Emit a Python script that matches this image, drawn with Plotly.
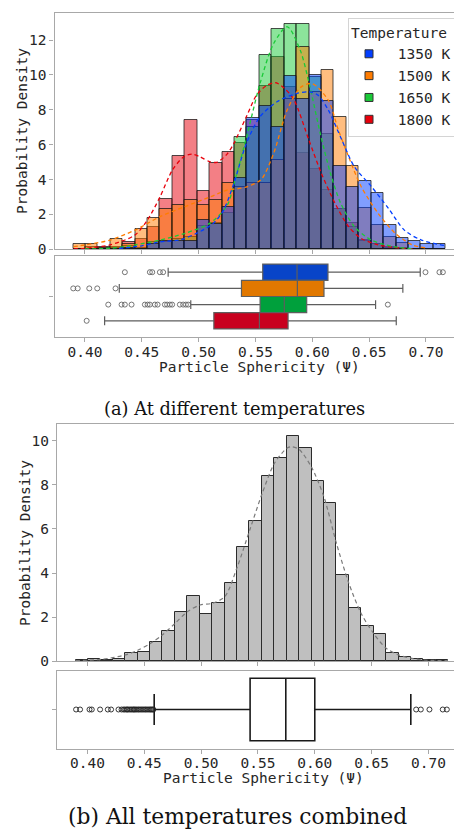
import plotly.graph_objects as go

FONT = "DejaVu Sans Mono"
SERIF = "DejaVu Serif"
TXT = "#262626"
SPINE = "#a8a8a8"

# ---------------- data ----------------
BIN_START = 0.3895
BIN_WIDTH = 0.01093
N_BINS = 30

temps = ["1350 K", "1500 K", "1650 K", "1800 K"]

hist_1350 = [0, 0, 0, 0, 0.1, 0, 0.3, 0.45, 0.5, 0.5, 1.7, 1.45, 2.4, 4.07, 7.54,
             8.21, 7.03, 9.93, 8.6, 9.99, 8.5, 4.8, 3.6, 3.93, 3.24, 1.39, 0.67, 0.45, 0.28, 0.28]
hist_1500 = [0.29, 0.29, 0, 0.57, 0.3, 1.15, 1.78, 2.3, 2.54, 2.83, 2.54, 2.83, 3.82, 3.6, 3.78,
             3.82, 5.12, 8.6, 11.6, 9.03, 10.27, 7.56, 4.77, 2.35, 1.39, 0.72, 0.35, 0, 0, 0]
hist_1650 = [0, 0, 0.1, 0.1, 0.2, 0.1, 0.4, 0.4, 0.6, 0.72, 1.35, 1.5, 2.1, 6.45, 7.03,
             11.17, 12.66, 12.91, 12.91, 9.9, 6.6, 2.3, 1.3, 0.5, 0.3, 0.1, 0, 0, 0, 0]
hist_1800 = [0, 0.12, 0.12, 0.12, 0.4, 0.6, 1.3, 2.87, 5.35, 7.41, 3.36, 4.97, 5.6, 6.07, 7.4,
             9.36, 11.04, 9.28, 5.5, 4.6, 3.4, 2.3, 1.5, 0.55, 0.3, 0.15, 0.1, 0, 0, 0]

hist_all = [0.06, 0.1, 0.07, 0.12, 0.36, 0.41, 0.88, 1.39, 2.25, 2.96, 2.16, 2.64, 3.53, 5.19, 6.34,
            8.38, 9.19, 10.2, 9.65, 8.17, 7.18, 3.89, 2.40, 1.60, 1.22, 0.39, 0.18, 0.10, 0.06, 0.06]

# KDE curves
kde_1350_x = [0.43, 0.45, 0.466, 0.484, 0.498, 0.513, 0.522, 0.531, 0.542, 0.554, 0.569, 0.586,
              0.597, 0.605, 0.614, 0.626, 0.637, 0.652, 0.667, 0.681, 0.696, 0.716]
kde_1350_y = [0.05, 0.2, 0.42, 0.55, 0.91, 1.49, 2.25, 3.78, 6.07, 7.6, 8.46, 8.93,
              9.03, 8.84, 8.0, 6.27, 4.74, 3.6, 2.35, 1.1, 0.53, 0.22]
kde_1500_x = [0.39, 0.40, 0.422, 0.444, 0.466, 0.488, 0.510, 0.525, 0.532, 0.543, 0.555, 0.566,
              0.578, 0.590, 0.600, 0.614, 0.623, 0.632, 0.643, 0.658, 0.673, 0.688, 0.70]
kde_1500_y = [0.15, 0.25, 0.53, 1.1, 1.87, 2.45, 3.0, 3.4, 3.45, 3.6, 4.0, 5.5,
              8.0, 9.3, 9.5, 8.56, 6.84, 5.3, 3.6, 2.06, 0.92, 0.25, 0.08]
kde_1650_x = [0.40, 0.422, 0.444, 0.466, 0.488, 0.510, 0.525, 0.532, 0.543, 0.554, 0.566, 0.578,
              0.5895, 0.598, 0.607, 0.616, 0.625, 0.637, 0.652, 0.672, 0.69]
kde_1650_y = [0.02, 0.06, 0.25, 0.53, 0.92, 1.5, 2.5, 3.97, 6.65, 9.5, 11.8, 12.76,
              11.4, 9.3, 6.65, 4.36, 2.64, 1.3, 0.53, 0.15, 0.03]
kde_1800_x = [0.39, 0.40, 0.422, 0.444, 0.455, 0.466, 0.477, 0.487, 0.494, 0.501, 0.510, 0.516,
              0.525, 0.531, 0.542, 0.551, 0.560, 0.568, 0.576, 0.584, 0.597, 0.608, 0.620,
              0.632, 0.643, 0.658, 0.679, 0.69]
kde_1800_y = [0.02, 0.06, 0.25, 0.82, 1.68, 3.0, 4.55, 5.31, 5.46, 5.31, 5.02, 4.99,
              5.46, 6.07, 7.6, 8.84, 9.4, 9.55, 9.2, 8.56, 6.27, 4.36, 2.64,
              1.3, 0.63, 0.25, 0.06, 0.02]

kde_all_x = [0.3897, 0.4126, 0.4334, 0.4443, 0.4551, 0.4660, 0.4771, 0.4880, 0.4991, 0.5100,
             0.5208, 0.5320, 0.5428, 0.5537, 0.5645, 0.5754, 0.5798, 0.5862, 0.5971, 0.6080,
             0.6191, 0.6300, 0.6408, 0.6517, 0.6628, 0.6737, 0.6845, 0.6954, 0.7171]
kde_all_y = [0.03, 0.09, 0.29, 0.5, 0.8, 1.2, 1.72, 2.25, 2.55, 2.63,
             2.93, 4.3, 5.95, 7.6, 8.97, 9.65, 9.72, 9.6, 8.8, 7.46,
             5.34, 3.53, 2.17, 1.27, 0.59, 0.29, 0.14, 0.06, 0.03]

# box statistics: q1, median, q3, lower whisker, upper whisker
box_q1 = [0.5564, 0.5377, 0.5541, 0.5134]
box_med = [0.5866, 0.5869, 0.5754, 0.5535]
box_q3 = [0.6138, 0.6103, 0.5951, 0.5787]
box_lo = [0.4732, 0.4302, 0.4931, 0.4173]
box_hi = [0.6950, 0.6797, 0.6557, 0.6739]
outliers_1350 = [0.4351, 0.4571, 0.4592, 0.4659, 0.4688, 0.6996, 0.7119, 0.7149]
outliers_1500 = [0.3897, 0.3936, 0.4038, 0.4108, 0.4269]
outliers_1650 = [0.4205, 0.4322, 0.4351, 0.4410, 0.4527, 0.4551, 0.4571, 0.4615, 0.4639,
                 0.4703, 0.4723, 0.4747, 0.4767, 0.4835, 0.4864, 0.4888, 0.4908, 0.6665]
outliers_1800 = [0.4015]

all_q1, all_med, all_q3, all_lo, all_hi = 0.5431, 0.5745, 0.6000, 0.4587, 0.6845
outliers_all = [0.3900, 0.3935, 0.4018, 0.4038, 0.4111, 0.4179, 0.4208, 0.4273, 0.4300,
                0.4318, 0.4330, 0.4345, 0.4352, 0.4365, 0.4378, 0.4390, 0.4402, 0.4410,
                0.4420, 0.4432, 0.4445, 0.4455, 0.4468, 0.4480, 0.4492, 0.4505, 0.4515,
                0.4527, 0.4540, 0.4551, 0.4560, 0.4571, 0.4580,
                0.6892, 0.6933, 0.7009, 0.7126, 0.7162]

tick_vals = [0.40, 0.45, 0.50, 0.55, 0.60, 0.65, 0.70]
tick_text = ["0.40", "0.45", "0.50", "0.55", "0.60", "0.65", "0.70"]

# ---------------- styles ----------------
bright = {"1350 K": (2, 62, 255), "1500 K": (255, 124, 0),
          "1650 K": (26, 201, 56), "1800 K": (232, 0, 11)}
box_fill = {"1350 K": "#0844c8", "1500 K": "#e17800", "1650 K": "#00a03c", "1800 K": "#c8001e"}
box_pos = {"1350 K": 0.3, "1500 K": 0.1, "1650 K": -0.1, "1800 K": -0.3}

hists = dict(zip(temps, [hist_1350, hist_1500, hist_1650, hist_1800]))
kdes = dict(zip(temps, [(kde_1350_x, kde_1350_y), (kde_1500_x, kde_1500_y),
                        (kde_1650_x, kde_1650_y), (kde_1800_x, kde_1800_y)]))
outs = dict(zip(temps, [outliers_1350, outliers_1500, outliers_1650, outliers_1800]))

centers = [BIN_START + (i + 0.5) * BIN_WIDTH for i in range(N_BINS)]


def rgb(c, a=1.0):
    return f"rgba({c[0]},{c[1]},{c[2]},{a})"


fig = go.Figure()

# ---- panel (a) histogram: layered, first hue on top
for t in ["1800 K", "1650 K", "1500 K", "1350 K"]:
    fig.add_trace(go.Bar(x=centers, y=hists[t], width=BIN_WIDTH,
                         marker=dict(color=rgb(bright[t], 0.5),
                                     line=dict(color="rgba(20,20,20,0.75)", width=1)),
                         xaxis="x", yaxis="y", showlegend=False, hoverinfo="skip"))
for t in ["1800 K", "1650 K", "1500 K", "1350 K"]:
    kx, ky = kdes[t]
    fig.add_trace(go.Scatter(x=kx, y=ky, mode="lines",
                             line=dict(color=rgb(bright[t]), width=1.3, dash="4px,3px",
                                       shape="spline", smoothing=0.8),
                             xaxis="x", yaxis="y", showlegend=False, hoverinfo="skip"))
NB = "\u00a0"
for t in temps:
    fig.add_trace(go.Scatter(x=[None], y=[None], mode="markers", name=NB + t,
                             marker=dict(symbol="square", size=8, color=rgb(bright[t]),
                                         line=dict(color="#333333", width=1)),
                             xaxis="x", yaxis="y", showlegend=True))

# ---- panel (a) boxes
for i, t in enumerate(temps):
    fig.add_trace(go.Box(y=[box_pos[t]], q1=[box_q1[i]], median=[box_med[i]], q3=[box_q3[i]],
                         lowerfence=[box_lo[i]], upperfence=[box_hi[i]], orientation="h",
                         width=0.2, fillcolor=box_fill[t], whiskerwidth=0.55,
                         line=dict(color="#5e5e5e", width=1.2), boxpoints=False,
                         xaxis="x2", yaxis="y2", showlegend=False, hoverinfo="skip"))
    fig.add_trace(go.Scatter(x=outs[t], y=[box_pos[t]] * len(outs[t]), mode="markers",
                             marker=dict(symbol="circle-open", size=5, color="#666666",
                                         line=dict(width=0.9)),
                             xaxis="x2", yaxis="y2", showlegend=False, hoverinfo="skip"))

# ---- panel (b) histogram
fig.add_trace(go.Bar(x=centers, y=hist_all, width=BIN_WIDTH,
                     marker=dict(color="#bfbfbf", line=dict(color="#2b2b2b", width=1)),
                     xaxis="x3", yaxis="y3", showlegend=False, hoverinfo="skip"))
fig.add_trace(go.Scatter(x=kde_all_x, y=kde_all_y, mode="lines",
                         line=dict(color="#7a7a7a", width=1.2, dash="4px,3px",
                                   shape="spline", smoothing=0.8),
                         xaxis="x3", yaxis="y3", showlegend=False, hoverinfo="skip"))

# ---- panel (b) box
fig.add_trace(go.Box(y=[0], q1=[all_q1], median=[all_med], q3=[all_q3],
                     lowerfence=[all_lo], upperfence=[all_hi], orientation="h",
                     width=0.8, fillcolor="white", whiskerwidth=0.5,
                     line=dict(color="#1a1a1a", width=1.6), boxpoints=False,
                     xaxis="x4", yaxis="y4", showlegend=False, hoverinfo="skip"))
fig.add_trace(go.Scatter(x=outliers_all, y=[0] * len(outliers_all), mode="markers",
                         marker=dict(symbol="circle-open", size=5, color="#222222",
                                     line=dict(width=0.9)),
                         xaxis="x4", yaxis="y4", showlegend=False, hoverinfo="skip"))

W, H = 454, 830


def px_y(p):
    return 1 - p / H


def axis(**kw):
    base = dict(showline=True, linecolor=SPINE, linewidth=1.3, mirror=True,
                ticks="outside", ticklen=4, tickwidth=1.2, tickcolor=SPINE,
                showgrid=False, zeroline=False, automargin=False,
                tickfont=dict(family=FONT, size=14.5, color=TXT))
    base.update(kw)
    return base


xa_top = [0.3732, 0.7247]
xa_bot = [0.3732, 0.7225]

fig.update_layout(
    width=W, height=H, margin=dict(l=0, r=0, t=0, b=0, autoexpand=False),
    paper_bgcolor="white", plot_bgcolor="white",
    barmode="overlay", bargap=0, boxmode="overlay",
    xaxis=axis(domain=[54.5 / W, 1.0], range=xa_top, tickvals=tick_vals,
               showticklabels=False, anchor="y"),
    yaxis=axis(domain=[px_y(249.3), px_y(13)], range=[0, 13.55],
               tickvals=[0, 2, 4, 6, 8, 10, 12], anchor="x"),
    xaxis2=axis(domain=[54.5 / W, 1.0], range=xa_top, tickvals=tick_vals,
                ticktext=tick_text, anchor="y2", ticklabelstandoff=-3),
    yaxis2=axis(domain=[px_y(337), px_y(256)], range=[-0.5, 0.5],
                tickvals=[0], ticktext=[""], anchor="x2"),
    xaxis3=axis(domain=[57 / W, 1.0], range=xa_bot, tickvals=tick_vals,
                showticklabels=False, anchor="y3"),
    yaxis3=axis(domain=[px_y(661.3), px_y(424)], range=[0, 10.75],
                tickvals=[0, 2, 4, 6, 8, 10], anchor="x3"),
    xaxis4=axis(domain=[57 / W, 1.0], range=xa_bot, tickvals=tick_vals,
                ticktext=tick_text, anchor="y4", ticklabelstandoff=-3),
    yaxis4=axis(domain=[px_y(748.5), px_y(670.5)], range=[-0.5, 0.5],
                tickvals=[0], ticktext=[""], anchor="x4"),
    legend=dict(x=348 / W, y=px_y(18), xanchor="left", yanchor="top",
                bgcolor="rgba(255,255,255,0.85)", bordercolor="#d4d4d4", borderwidth=1,
                font=dict(family=FONT, size=14.5, color=TXT),
                title=dict(text="Temperature", font=dict(family=FONT, size=14.5, color=TXT)),
                tracegroupgap=0),
    showlegend=True,
)

ann = [
    dict(text="Probability Density", x=22 / W, y=px_y(131), textangle=-90),
    dict(text="Probability Density", x=25 / W, y=px_y(543), textangle=-90),
    dict(text="Particle Sphericity (\u03a8)", x=259.7 / W, y=px_y(367)),
    dict(text="Particle Sphericity (\u03a8)", x=263 / W, y=px_y(778)),
]
for a in ann:
    fig.add_annotation(xref="paper", yref="paper", showarrow=False,
                       xanchor="center", yanchor="middle",
                       font=dict(family=FONT, size=14.5, color=TXT), **a)

fig.add_annotation(text="(a) At different temperatures", x=234 / W, y=px_y(408),
                   xref="paper", yref="paper", showarrow=False,
                   xanchor="center", yanchor="middle",
                   font=dict(family=SERIF, size=17.8, color="#111111"))
fig.add_annotation(text="(b) All temperatures combined", x=237.5 / W, y=px_y(816),
                   xref="paper", yref="paper", showarrow=False,
                   xanchor="center", yanchor="middle",
                   font=dict(family=SERIF, size=21.8, color="#111111"))

fig.write_html("out.html")
